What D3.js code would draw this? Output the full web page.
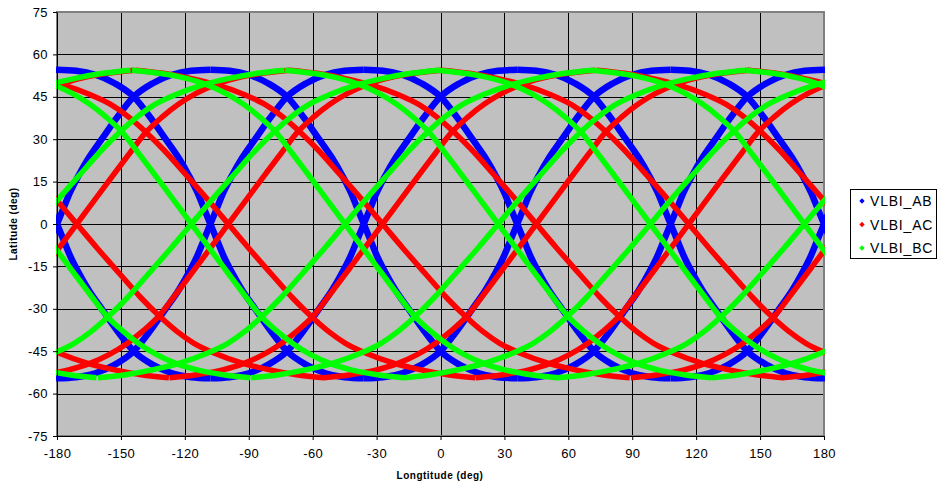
<!DOCTYPE html>
<html>
<head>
<meta charset="utf-8">
<script src="https://cdn.jsdelivr.net/npm/d3@7"></script>
<style>
  body { margin: 0; background: #fff; }
  text { font-family: Arial, "Liberation Sans", sans-serif; }
</style>
</head>
<body>
<div id="chart"></div>
<script>
// tick labels
var lonTicks = [-180, -150, -120, -90, -60, -30, 0, 30, 60, 90, 120, 150, 180];
var latTicks = [-75, -60, -45, -30, -15, 0, 15, 30, 45, 60, 75];

// arch shapes: latitude (deg) against the longitude
// distance (deg) from the equator crossing of a track
var abArchOffset = [0, 3, 6, 10, 15, 21, 28, 36, 45, 54, 63, 72];
var abArchLat    = [0, 5.5, 11, 17, 23.5, 30, 37.5, 45, 49.8, 52.8, 54.2, 54.6];

var steepArchOffset = [0, 14, 25, 32.4, 40, 48, 56, 65, 75, 88, 100];
var steepArchLat    = [0, 14.2, 25.2, 32.4, 37.8, 42.5, 46.2, 49.3, 51.6, 53.4, 54.4];

var shallowArchOffset = [0, 9.3, 20, 30, 38.5, 47, 55, 65, 78, 90, 103, 116];
var shallowArchLat    = [0, 8.3, 17.5, 26, 32.4, 38, 42.2, 45.8, 49.3, 51.5, 53.3, 54.4];

// longitudes where the tracks of each series cross the equator
var abNodes = [-180, -108, -36, 36, 108];
var acNodes = [-170.7, -99.6, -27.2, 45.0, 116.5];
var bcNodes = [-116.9, -44.8, 27.1, 98.5, 170.8];

var seriesNames = ["VLBI_AB", "VLBI_AC", "VLBI_BC"];
var seriesColors = ["#0000FF", "#FF0000", "#00FF00"];

var width = 938, height = 485;
var x = d3.scaleLinear().domain([-180, 180]).range([57, 824]);
var y = d3.scaleLinear().domain([-75, 75]).range([436, 12]);

var svg = d3.select("#chart").append("svg")
    .attr("width", width)
    .attr("height", height);

// plot background
svg.append("rect")
    .attr("x", x(-180)).attr("y", y(75))
    .attr("width", x(180) - x(-180)).attr("height", y(-75) - y(75))
    .attr("fill", "#C0C0C0");

// gridlines
svg.append("g").selectAll("line")
    .data(lonTicks.slice(1, -1))
    .enter().append("line")
    .attr("x1", function (d) { return Math.round(x(d)) + 0.5; })
    .attr("x2", function (d) { return Math.round(x(d)) + 0.5; })
    .attr("y1", y(75)).attr("y2", y(-75))
    .attr("stroke", "#000").attr("stroke-width", 1);

svg.append("g").selectAll("line")
    .data(latTicks.slice(1, -1))
    .enter().append("line")
    .attr("y1", function (d) { return Math.round(y(d)) + 0.5; })
    .attr("y2", function (d) { return Math.round(y(d)) + 0.5; })
    .attr("x1", x(-180)).attr("x2", x(180))
    .attr("stroke", "#000").attr("stroke-width", 1);

// border of plot area
svg.append("rect")
    .attr("x", x(-180)).attr("y", y(75))
    .attr("width", x(180) - x(-180)).attr("height", y(-75) - y(75))
    .attr("fill", "none")
    .attr("stroke", "#808080").attr("stroke-width", 2);

// build tracks: each equator crossing gives an ascending and a descending arc
function arcs(nodes, ascOff, ascLat, descOff, descLat) {
    var out = [];
    var all = [];
    nodes.forEach(function (n) { all.push(n - 360, n, n + 360); });
    all.forEach(function (n) {
        var asc = [], desc = [];
        for (var i = ascOff.length - 1; i > 0; i--) asc.push([n - ascOff[i], -ascLat[i]]);
        for (var i = 0; i < ascOff.length; i++) asc.push([n + ascOff[i], ascLat[i]]);
        for (var i = descOff.length - 1; i > 0; i--) desc.push([n - descOff[i], descLat[i]]);
        for (var i = 0; i < descOff.length; i++) desc.push([n + descOff[i], -descLat[i]]);
        out.push(asc, desc);
    });
    return out;
}

var tracks = [
    arcs(abNodes, abArchOffset, abArchLat, abArchOffset, abArchLat),
    arcs(acNodes, steepArchOffset, steepArchLat, shallowArchOffset, shallowArchLat),
    arcs(bcNodes, shallowArchOffset, shallowArchLat, steepArchOffset, steepArchLat)
];
var widths = [6.5, 5.5, 5.5];

svg.append("clipPath").attr("id", "clip")
    .append("rect")
    .attr("x", x(-180) - 1).attr("y", y(75))
    .attr("width", x(180) - x(-180) + 2).attr("height", y(-75) - y(75));

var line = d3.line()
    .x(function (d) { return x(d[0]); })
    .y(function (d) { return y(d[1]); })
    .curve(d3.curveMonotoneX);

var plot = svg.append("g").attr("clip-path", "url(#clip)");
tracks.forEach(function (t, k) {
    plot.append("g").selectAll("path")
        .data(t)
        .enter().append("path")
        .attr("d", line)
        .attr("fill", "none")
        .attr("stroke", seriesColors[k])
        .attr("stroke-width", widths[k])
        .attr("stroke-linejoin", "round");
});

// axes (plain hyphen for negatives, like the original)
var fmt = function (d) { return String(d); };
var yAxis = svg.append("g")
    .attr("transform", "translate(" + x(-180) + ",0)")
    .call(d3.axisLeft(y).tickValues(latTicks).tickFormat(fmt).tickSize(4).tickSizeOuter(0).tickPadding(5));
var xAxis = svg.append("g")
    .attr("transform", "translate(0," + y(-75) + ")")
    .call(d3.axisBottom(x).tickValues(lonTicks).tickFormat(fmt).tickSize(4).tickSizeOuter(0).tickPadding(9));

[yAxis, xAxis].forEach(function (a) {
    a.select(".domain").attr("stroke", "#000");
    a.selectAll(".tick line").attr("stroke", "#000");
    a.selectAll("text")
        .attr("fill", "#000")
        .style("font-size", "13px")
        .style("letter-spacing", "0.4px")
        .style("font-family", "Arial, 'Liberation Sans', sans-serif");
});

// axis titles
svg.append("text")
    .attr("x", 440).attr("y", 479)
    .attr("text-anchor", "middle")
    .style("font-size", "10px").style("font-weight", "bold")
    .style("letter-spacing", "0.5px")
    .text("Longtitude (deg)");

svg.append("text")
    .attr("transform", "translate(17,224) rotate(-90)")
    .attr("text-anchor", "middle")
    .style("font-size", "10px").style("font-weight", "bold")
    .style("letter-spacing", "0.5px")
    .text("Latitude (deg)");

// legend
var legend = svg.append("g");
legend.append("rect")
    .attr("x", 850.5).attr("y", 189.5)
    .attr("width", 86).attr("height", 69)
    .attr("fill", "#fff").attr("stroke", "#000");

var entry = legend.selectAll("g.entry")
    .data(seriesNames)
    .enter().append("g")
    .attr("class", "entry")
    .attr("transform", function (d, i) { return "translate(0," + (201 + i * 23.5) + ")"; });

entry.append("path")
    .attr("transform", "translate(862,0) rotate(45)")
    .attr("d", d3.symbol().type(d3.symbolSquare).size(14))
    .attr("fill", function (d, i) { return seriesColors[i]; });

entry.append("text")
    .attr("x", 870).attr("y", 5)
    .style("font-size", "14px")
    .style("letter-spacing", "0.8px")
    .text(function (d) { return d; });
</script>
</body>
</html>
